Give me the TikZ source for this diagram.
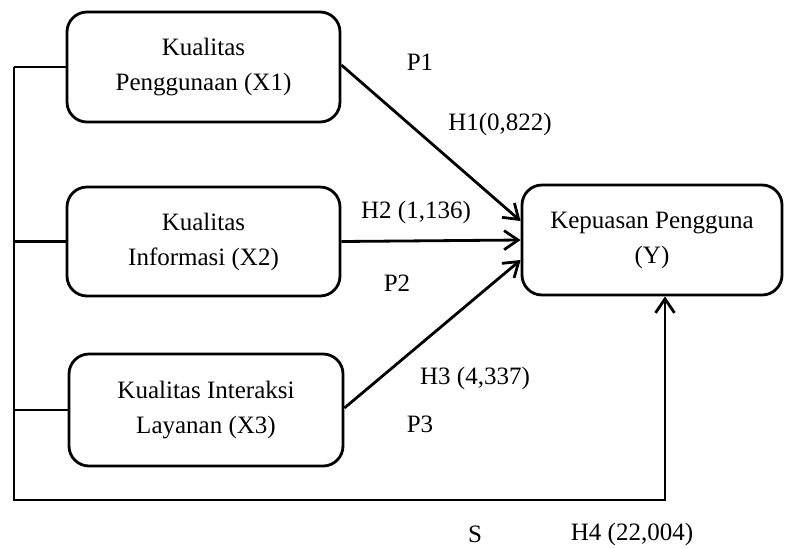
\documentclass[tikz,border=0pt]{standalone}
\usepackage{fontspec}
\setmainfont{Liberation Serif}
\usetikzlibrary{arrows.meta}
\begin{document}
\begin{tikzpicture}[x=1pt,y=-1pt,
  box/.style={draw,line width=2.8pt,rounded corners=20pt,align=center,inner sep=0pt,
    font=\fontsize{25}{35}\selectfont},
  conn/.style={line width=2.8pt},
  arr/.style={conn,-{Straight Barb[length=14pt,width=19pt,line width=2.8pt]}},
  lbl/.style={font=\fontsize{25}{29}\selectfont,inner sep=0pt}]
\useasboundingbox (0,0) rectangle (787,547);
\node[box,minimum width=273pt,minimum height=110pt] (X1) at (203.5,67) {Kualitas\\Penggunaan (X1)};
\node[box,minimum width=273pt,minimum height=109pt] (X2) at (203.5,241.5) {Kualitas\\Informasi (X2)};
\node[box,minimum width=274pt,minimum height=112pt] (X3) at (206,410) {Kualitas Interaksi\\Layanan (X3)};
\node[box,minimum width=260pt,minimum height=110pt] (Y) at (652,240) {Kepuasan Pengguna\\(Y)};
\coordinate (bl) at (14,500);
\coordinate (br) at (665,500);
\draw[conn] (X1.west) -- (X1.west -| bl);
\draw[conn] (X2.west) -- (X2.west -| bl);
\draw[conn] (X3.west) -- (X3.west -| bl);
\draw[arr] (X1.west -| bl) -- (bl) -- (br) -- (br |- Y.south);
\draw[arr] ([yshift=2pt]X1.east) -- ([yshift=19pt]Y.west);
\draw[arr] (X2.east) -- (Y.west);
\draw[arr] ([yshift=2pt]X3.east) -- ([yshift=-20pt]Y.west);
\node[lbl] (p1) at (420,62) {P1};
\node[lbl] (h1) at (500,124) {H1(0,822)};
\node[lbl] (h2) at (416,212) {H2 (1,136)};
\node[lbl] (p2) at (397,283) {P2};
\node[lbl] (h3) at (475,378) {H3 (4,337)};
\node[lbl] (p3) at (420,424) {P3};
\node[lbl] (s) at (475,534) {S};
\node[lbl] (h4) at (632,534) {H4 (22,004)};
\end{tikzpicture}
\end{document}
